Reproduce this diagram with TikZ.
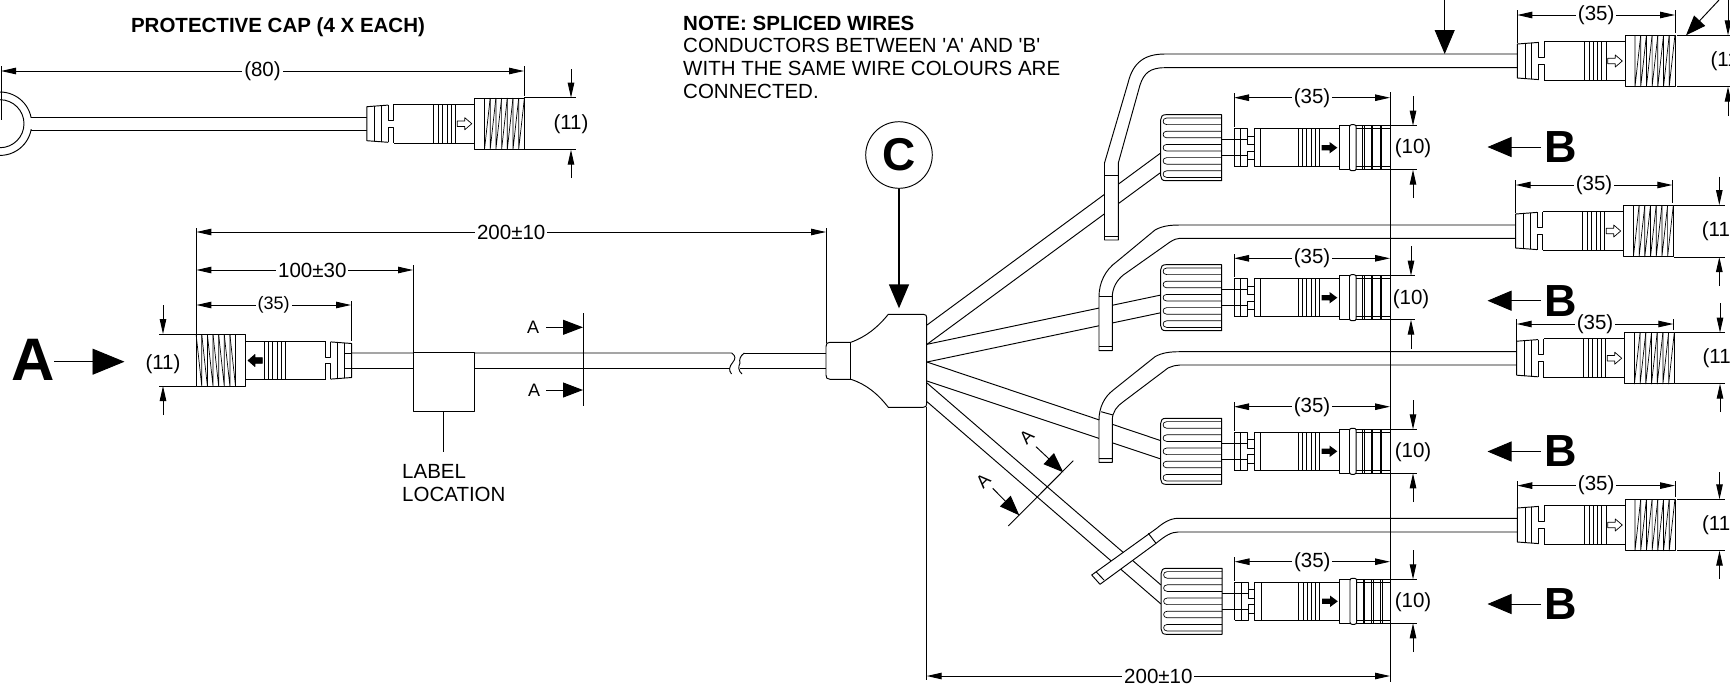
\documentclass[tikz,border=0pt]{standalone}
\usepackage{fontspec}
\setmainfont{Liberation Sans}
\newfontfamily\plainfont{Liberation Sans}
\usetikzlibrary{arrows.meta}
\tikzset{
  every node/.style={font=\fontsize{20.5}{22.8}\selectfont, inner sep=0pt},
  lin/.style={line width=.95pt, line join=round},
  thn/.style={line width=.7pt},
  dimline/.style={line width=.95pt, {Triangle[length=15pt,width=6.5pt]}-{Triangle[length=15pt,width=6.5pt]}},
  oneway/.style={line width=.95pt, -{Triangle[length=15pt,width=6.5pt]}},
  midhead/.style={line width=.95pt, -{Triangle[length=20pt,width=15pt]}},
  bighead/.style={line width=.95pt, -{Triangle[length=24pt,width=20pt]}},
  hugehead/.style={line width=.95pt, -{Triangle[length=32pt,width=26pt]}},
  dimtext/.style={fill=white, inner xsep=2pt, inner ysep=0pt},
}
% male connector: x, y of the left end, x factor, arrow fill
\newcommand{\malecon}[4]{%
\begin{scope}[shift={(#1,#2)},xscale=#3,lin]
  \fill[white] (0,-17) -- (27,-19.3) -- (107.7,-19.3) -- (107.7,19.3) -- (27,19.3) -- (0,17) -- cycle;
  \draw (21.3,-18.6) -- (0,-17) -- (0,17) -- (21.3,18.6);
  \draw (27,-19.3) -- (107.7,-19.3) (27,19.3) -- (107.7,19.3);
  \draw[thn] (7.7,-17.6) -- (7.7,17.6) (14.3,-18) -- (14.3,18);
  \draw (21.3,-18.6) -- (21.3,-3.3) -- (27,-3.3) -- (27,-19.3);
  \draw (21.3,18.6) -- (21.3,3.3) -- (27,3.3) -- (27,19.3);
  \foreach \u in {67,71.7,75.7,80.3,84.3,89} \draw[thn] (\u,-19.3) -- (\u,19.3);
  \draw[thn,fill=#4] (90.5,-2.8) -- (98,-2.8) -- (98,-6) -- (105,0) -- (98,6) -- (98,2.8) -- (90.5,2.8) -- cycle;
  \draw[fill=white] (107.7,-25.7) rectangle (157.7,25.7);
  \foreach \u in {117.7,123.4,129.1,134.8,140.5,146.2,151.9}
    \draw[thn] (\u,-25.7) -- (\u,25.7) -- ({\u+5.7},-25.7);
\end{scope}}
% female connector: x of the knob's left edge, y
\newcommand{\femcon}[2]{%
\begin{scope}[shift={(#1,#2)},lin]
  \draw[fill=white] (61,-33) -- (5,-33) .. controls (1.5,-33) and (0,-31) .. (0,-28) -- (0,28) .. controls (0,31) and (1.5,33) .. (5,33) -- (61,33) -- cycle;
  \foreach \v in {-26.4,-13.2,0,13.2,26.4}
    \draw[thn] (61,{\v-3.3}) -- (6,{\v-3.3}) .. controls (3.5,{\v-3.3}) and (2.4,{\v-1.6}) .. (2.4,\v) .. controls (2.4,{\v+1.6}) and (3.5,{\v+3.3}) .. (6,{\v+3.3}) -- (61,{\v+3.3});
  \draw (61,-8) -- (86.9,-8) (61,8) -- (86.9,8);
  \draw (73.3,-19) -- (73.3,19) (80,-19) -- (80,19);
  \draw (73.3,-19) -- (87,-19) -- (87,-3.3) (73.3,19) -- (87,19) -- (87,3.3);
  \draw (87,-11.7) rectangle (93.6,-3.3) (87,3.3) rectangle (93.6,11.7);
  \draw (93.6,-19) rectangle (178.6,19) (100,-19) -- (100,19);
  \foreach \u in {137.6,142,146,150.3,154.3,158.6} \draw[thn] (\u,-19) -- (\u,19);
  \fill[black] (161,-2.6) -- (169,-2.6) -- (169,-5.6) -- (176.6,0) -- (169,5.6) -- (169,2.6) -- (161,2.6) -- cycle;
  \draw[fill=white] (178.6,-22) rectangle (229.3,22);
  \draw[fill=white,rounded corners=2pt] (188.8,-23) rectangle (195.4,23);
  \draw (195.4,-19) -- (229.3,-19) (195.4,19) -- (229.3,19);
  \foreach \u in {202,203.6,210.4,212,219.4,221} \draw[thn] (\u,-22) -- (\u,22);
\end{scope}}
% vertical dimension: x, top end, upper tip, lower tip, bottom end
\newcommand{\vdim}[5]{%
  \draw[oneway] (#1,#2) -- (#1,#3);
  \draw[oneway] (#1,#5) -- (#1,#4);}
\begin{document}
\begin{tikzpicture}[x=1pt,y=-1pt]
\useasboundingbox (0,0) rectangle (1730,689);
\clip (0,0) rectangle (1730,689);
% ---------- cap
\node[font=\fontsize{20.5}{22}\selectfont\bfseries] (captitle) at (278,27) {PROTECTIVE CAP (4 X EACH)};
\draw[lin] (31,117.3) -- (367,117.3) (31,130) -- (367,130);
\draw[lin] (0,123.7) circle (31.7) (0,123.7) circle (24);
\fill[white] (28,118.2) rectangle (34,129.2);
\draw[lin] (1,66) -- (1,120);
\malecon{366.8}{123.7}{1}{white}
\draw[dimline] (1,71) -- node[dimtext] (capdim) {(80)} (524,71);
\draw[lin] (524,66) -- (524,96);
\draw[lin] (524,97.7) -- (576,97.7) (524,149.7) -- (576,149.7);
\vdim{571}{69}{97.7}{149.7}{178}
\node (capdia) at (571,124) {(11)};
% ---------- note
\node[anchor=north west,align=left] (note) at (683,15.5) {\plainfont\textbf{NOTE: SPLICED WIRES}\\\plainfont CONDUCTORS BETWEEN 'A' AND 'B'\\\plainfont WITH THE SAME WIRE COLOURS ARE\\\plainfont CONNECTED.};
% ---------- wires behind
\draw[lin] (927,325) -- (1160,153.5) (927,344.3) -- (1160,173);
\draw[lin] (927,344.3) -- (1161,295) (927,362) -- (1161,312.7);
\draw[lin] (927,362) -- (1161,440.7) (927,381) -- (1161,459);
\draw[lin] (927,383) -- (1161,585) (927,401.7) -- (1161,604);
% ---------- main wire
\draw[lin] (351,353) -- (731.7,353) .. controls (736,356) and (735.5,359) .. (733,362) .. controls (729,367) and (728.5,370) .. (731.5,374);
\draw[lin] (351,368.3) -- (729.5,368.3);
\draw[lin] (744.3,353) .. controls (740,356) and (739,360) .. (740,363) .. controls (738,367) and (738.5,371) .. (742,374);
\draw[lin] (744.3,353) -- (826,353) (740,368.3) -- (826,368.3);
% ---------- hub
\draw[lin,fill=white] (830,342.3) -- (850.7,342.3) .. controls (866,337) and (878,327) .. (888.3,314.3) -- (923.3,314.3) .. controls (926,314.3) and (926.7,315.5) .. (926.7,318) -- (926.7,403.6) .. controls (926.7,406) and (926,407.3) .. (923.3,407.3) -- (888.3,407.3) .. controls (878,394) and (866,384) .. (850.7,379.3) -- (830,379.3) .. controls (827,379.3) and (826,378) .. (826,375) -- (826,346.6) .. controls (826,343.5) and (827,342.3) .. (830,342.3) -- cycle;
\draw[lin] (850.7,342.3) -- (850.7,379.3);
% ---------- label box
\draw[lin,fill=white] (413,352.7) rectangle (474,411);
\draw[lin] (443.5,411) -- (443.5,451.7);
\node[anchor=north west,align=left] (labeltxt) at (402,464) {LABEL\\LOCATION};
% ---------- left connector
\malecon{351.7}{360.5}{-0.987}{black}
\draw[lin] (351,353) -- (345,353) (351,368.3) -- (345,368.3);
\draw[lin] (196.4,228) -- (196.4,334);
\draw[lin] (351,301) -- (351,341);
\draw[lin] (413,265) -- (413,353);
\draw[lin] (826,228) -- (826,343);
\draw[dimline] (196.4,232) -- node[dimtext] (dim200a) {200±10} (826,232);
\draw[dimline] (196.4,270) -- node[dimtext,pos=.535] (dim100) {100±30} (413,270);
\draw[dimline] (196.4,305) -- node[dimtext,font=\fontsize{18}{22}\selectfont] (dim35a) {(35)} (351,305);
\draw[lin] (159,334) -- (196,334) (159,386) -- (196,386);
\vdim{163}{305}{334}{386}{415}
\node (diaA) at (163,364) {(11)};
\node[font=\fontsize{60}{60}\selectfont\bfseries] (bigA) at (33,360) {A};
\draw[hugehead] (54,361.7) -- (124.5,361.7);
% section A-A on main wire
\draw[lin] (583,313) -- (583,405.7);
\node[font=\fontsize{18}{22}\selectfont] (secA1) at (533,327.3) {A};
\node[font=\fontsize{18}{22}\selectfont] (secA2) at (534,390) {A};
\draw[midhead] (546,327.3) -- (583,327.3);
\draw[midhead] (546,390) -- (583,390);
% ---------- C
\node[draw,line width=.95pt,circle,minimum size=66.6pt,font=\fontsize{46}{46}\selectfont\bfseries] (circC) at (899,155) {C};
\coordinate (tipC) at (899,308.3);
\draw[bighead,line width=1.4pt] (circC.south) -- (tipC);
% ---------- cables with stubs
\draw[lin,fill=white] (1517,54) -- (1165,54) .. controls (1145,54) and (1133,62) .. (1128,83) -- (1104.5,163) -- (1104.5,240) -- (1118.3,240) -- (1118.3,163) -- (1140,85) .. controls (1144,73) and (1150,67.7) .. (1165,67.7) -- (1517,67.7);
\draw[lin] (1104.5,175) -- (1118.3,175) (1104.5,236) -- (1118.3,236);
\draw[lin,fill=white] (1517,225) -- (1180,225) .. controls (1170,225) and (1162,226) .. (1155,230) -- (1116.7,261.7) .. controls (1105,270) and (1099,283) .. (1099,296.7) -- (1099,350.7) -- (1112.3,350.7) -- (1112.3,296.7) .. controls (1112.3,288) and (1117,280) .. (1123.3,275) -- (1170,242) .. controls (1174,239.5) and (1177,238.3) .. (1180,238.3) -- (1517,238.3);
\draw[lin] (1099,296.7) -- (1112.3,296.7) (1099,346.7) -- (1112.3,346.7);
\draw[lin,fill=white] (1517,351.7) -- (1180,351.7) .. controls (1170,351.7) and (1162,352.7) .. (1155,356.7) -- (1113.3,390) .. controls (1104,397) and (1099,408) .. (1099,420) -- (1099,462.3) -- (1112.3,462.3) -- (1112.3,420) .. controls (1112.3,412) and (1117,406) .. (1123.3,401.7) -- (1168,368) .. controls (1173,366) and (1176,365) .. (1180,365) -- (1517,365);
\draw[lin] (1101,411.7) -- (1113,415) (1099,458.7) -- (1112.3,458.7);
\draw[lin,fill=white] (1517,518.3) -- (1178.3,518.3) .. controls (1170,518.3) and (1163,523) .. (1156.7,528.3) -- (1091.7,575) -- (1100,584.3) -- (1156,543.3) .. controls (1165,536) and (1171,532) .. (1178.3,532) -- (1517,532);
\draw[lin] (1148.3,533.3) -- (1156,543.3) (1096,571.7) -- (1104,580);
% ---------- right connectors (female)
\femcon{1160.7}{147.7}
\femcon{1160.7}{297.7}
\femcon{1160.7}{451.3}
\femcon{1161.2}{601.3}
% ---------- right connectors (male)
\malecon{1517.3}{61}{1}{white}
\malecon{1515.7}{231}{1}{white}
\malecon{1516.7}{358.2}{1}{white}
\malecon{1517.3}{525}{1}{white}
% ---------- top leaders
\coordinate (topA) at (1444.7,0);
\coordinate (tipA) at (1444.7,54);
\draw[bighead] (topA) -- (tipA);
\coordinate (topB) at (1719,0);
\coordinate (tipB) at (1686,35.3);
\draw[midhead] (topB) -- (tipB);
% ---------- male dims
\draw[lin] (1517.3,10) -- (1517.3,43) (1675,10) -- (1675,33);
\draw[dimline] (1517.3,15) -- node[dimtext] (d35m1) {(35)} (1675,15);
\draw[lin] (1677,35.3) -- (1730,35.3) (1677,86.7) -- (1730,86.7);
\vdim{1728}{0}{35.3}{86.7}{116}
\node (d11m1) at (1728,61) {(11)};
\draw[lin] (1515.7,180) -- (1515.7,213) (1672.3,180) -- (1672.3,203);
\draw[dimline] (1515.7,185) -- node[dimtext] (d35m2) {(35)} (1672.3,185);
\draw[lin] (1674,205) -- (1725,205) (1674,257) -- (1725,257);
\vdim{1719.3}{176.7}{205}{257}{286}
\node (d11m2) at (1719.3,231) {(11)};
\draw[lin] (1516.7,319) -- (1516.7,342) (1673.3,319) -- (1673.3,330);
\draw[dimline] (1516.7,324) -- node[dimtext] (d35m3) {(35)} (1673.3,324);
\draw[lin] (1675,332.7) -- (1725,332.7) (1675,383.7) -- (1725,383.7);
\vdim{1720}{303}{332.7}{383.7}{412}
\node (d11m3) at (1720,358) {(11)};
\draw[lin] (1517.3,481) -- (1517.3,510) (1675,481) -- (1675,497);
\draw[dimline] (1517.3,485.6) -- node[dimtext] (d35m4) {(35)} (1675,485.6);
\draw[lin] (1677,499.3) -- (1725,499.3) (1677,550.7) -- (1725,550.7);
\vdim{1719.5}{472}{499.3}{550.7}{579}
\node (d11m4) at (1719.5,525) {(11)};
% ---------- female dims
\draw[lin] (1390,92) -- (1390,682);
\draw[lin] (1234,93) -- (1234,127) (1234,254) -- (1234,277) (1234,402) -- (1234,431) (1234.5,557) -- (1234.5,581);
\draw[dimline] (1234,97.7) -- node[dimtext] (d35f1) {(35)} (1390,97.7);
\draw[dimline] (1234,258.3) -- node[dimtext] (d35f2) {(35)} (1390,258.3);
\draw[dimline] (1234,406.7) -- node[dimtext] (d35f3) {(35)} (1390,406.7);
\draw[dimline] (1234.5,561.7) -- node[dimtext] (d35f4) {(35)} (1390,561.7);
\draw[lin] (1390,125.7) -- (1417,125.7) (1390,169.7) -- (1417,169.7);
\vdim{1413}{96}{125.7}{169.7}{198}
\node (d10f1) at (1413,148.5) {(10)};
\draw[lin] (1390,275.7) -- (1415,275.7) (1390,319.7) -- (1415,319.7);
\vdim{1411}{246}{275.7}{319.7}{349}
\node (d10f2) at (1411,299) {(10)};
\draw[lin] (1390,429.3) -- (1417,429.3) (1390,473.3) -- (1417,473.3);
\vdim{1413}{400}{429.3}{473.3}{502}
\node (d10f3) at (1413,452) {(10)};
\draw[lin] (1390,579.3) -- (1417,579.3) (1390,623.3) -- (1417,623.3);
\vdim{1413}{550}{579.3}{623.3}{652}
\node (d10f4) at (1413,602) {(10)};
% ---------- bottom dim
\draw[lin] (926.7,407) -- (926.7,680);
\draw[dimline] (926.7,676) -- node[dimtext] (dim200b) {200±10} (1390,676);
% ---------- B labels
\foreach \n/\yy in {1/147,2/300.7,3/451.5,4/604}{
  \node[font=\fontsize{45}{45}\selectfont\bfseries] (bigB\n) at (1561,\yy) {B};
  \draw[bighead] (1541,\yy) -- (1487.5,\yy);
}
% ---------- diagonal section
\draw[lin] (1008.3,526) -- (1073.3,460.7);
\node[rotate=45,font=\fontsize{18}{22}\selectfont] (secA3) at (1026.7,436.7) {A};
\node[rotate=45,font=\fontsize{18}{22}\selectfont] (secA4) at (983.3,481) {A};
\draw[midhead] (1036,446.7) -- (1063.3,472.3);
\draw[midhead] (992.7,488.3) -- (1019.3,515.3);
\end{tikzpicture}
\end{document}
